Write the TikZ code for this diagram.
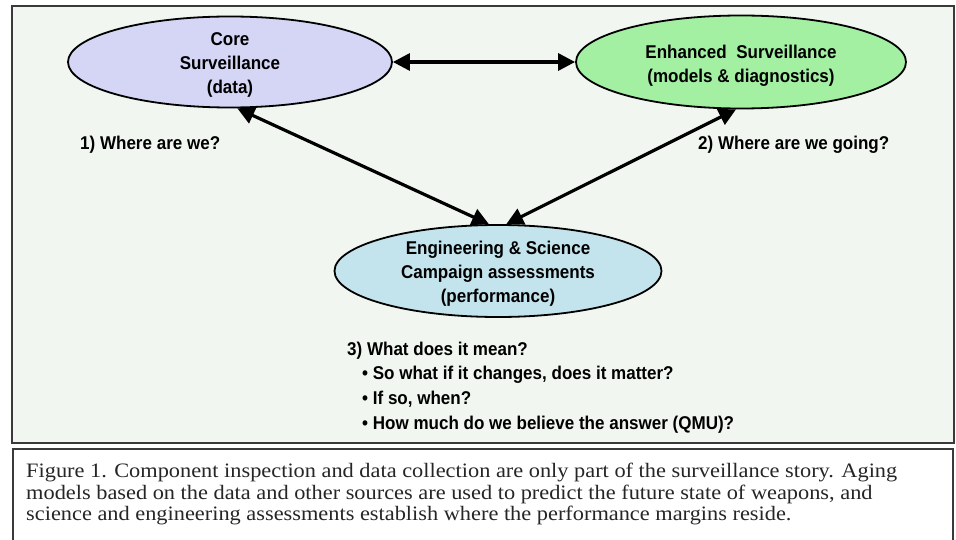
\documentclass[tikz,border=0pt]{standalone}
\usepackage{fontspec}
\setmainfont{Liberation Serif}
\newfontfamily\diagfont[FakeStretch=0.92]{Liberation Sans}
\newfontfamily\capfont[FakeStretch=1.09]{Liberation Serif}
\usetikzlibrary{shapes.geometric,arrows.meta}
\definecolor{panelbg}{HTML}{F1F7F0}
\definecolor{framecol}{HTML}{3A3A3A}
\definecolor{corefill}{HTML}{D5D5F5}
\definecolor{enhfill}{HTML}{A3F0A3}
\definecolor{engfill}{HTML}{C3E4EC}
\tikzset{
  bubble/.style={ellipse, draw=black, line width=1.8pt, inner sep=0pt},
  bubbletext/.style={font=\diagfont\bfseries\fontsize{18.5}{24}\selectfont, align=center, inner sep=0pt},
  qtext/.style={font=\diagfont\bfseries\fontsize{18.5}{24}\selectfont, inner sep=0pt, anchor=base west},
  link/.style={line width=3.2pt, {Triangle[length=17pt,width=17pt]}-{Triangle[length=17pt,width=17pt]}},
  captext/.style={font=\capfont\fontsize{20.5}{22}\selectfont, inner sep=0pt, anchor=base west, text=black!85}
}
\begin{document}
\begin{tikzpicture}[x=1pt,y=-1pt]
\useasboundingbox (0,0) rectangle (956,540);
% panels
\draw[framecol, line width=1.8pt, fill=panelbg] (12,6) rectangle (954,443);
\fill[white] (13,449) rectangle (953,540);
\draw[framecol, line width=1.8pt] (13,541) -- (13,449) -- (953,449) -- (953,541);
% ellipses
\node[bubble, fill=corefill, minimum width=324pt, minimum height=91pt] (core) at (230,62) {};
\node[bubble, fill=enhfill, minimum width=330pt, minimum height=93pt] (enh) at (741,62) {};
\node[bubble, fill=engfill, minimum width=327pt, minimum height=92pt] (eng) at (498,271) {};
\node[bubbletext] (coretext) at (230,65) {Core\\Surveillance\\(data)};
\node[bubbletext] (enhtext) at (741,66) {Enhanced\ \ Surveillance\\(models \& diagnostics)};
\node[bubbletext] (engtext) at (498,274) {Engineering \& Science\\Campaign assessments\\(performance)};
% connectors
\draw[link] (core.east) -- (enh.west);
\draw[link] (core.-81) -- (eng.101);
\draw[link] (enh.-96) -- (eng.80);
% questions
\node[qtext] (q1) at (80,150) {1) Where are we?};
\node[qtext] (q2) at (698,150) {2) Where are we going?};
\node[qtext] (q3) at (347,355) {3) What does it mean?};
\node[qtext] (q3a) at (362,379) {\textbullet\ So what if it changes, does it matter?};
\node[qtext] (q3b) at (362,404) {\textbullet\ If so, when?};
\node[qtext] (q3c) at (362,429) {\textbullet\ How much do we believe the answer (QMU)?};
% caption
\node[captext] (cap1) at (26,477) {Figure 1. Component inspection and data collection are only part of the surveillance story. Aging};
\node[captext] (cap2) at (26,499) {models based on the data and other sources are used to predict the future state of weapons, and};
\node[captext] (cap3) at (26,520) {science and engineering assessments establish where the performance margins reside.};
\end{tikzpicture}
\end{document}
